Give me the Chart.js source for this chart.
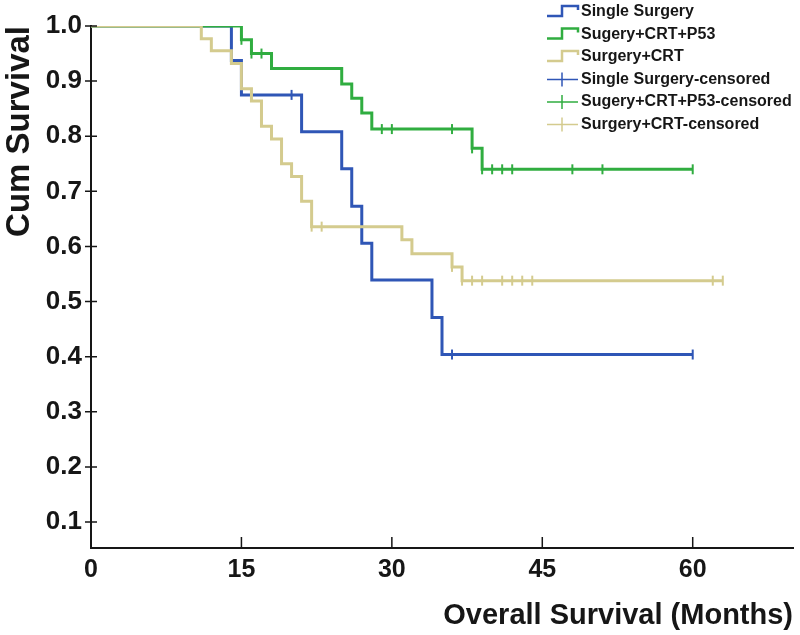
<!DOCTYPE html>
<html>
<head>
<meta charset="utf-8">
<script src="https://cdn.jsdelivr.net/npm/chart.js@4"></script>
<style>
  body { margin: 0; background: #fff; }
</style>
</head>
<body>
<canvas id="km" width="800" height="635"></canvas>
<script>
// Kaplan-Meier steps (months, cumulative survival)
const SINGLE_T = [0, 14, 15, 21, 25, 26, 27, 28, 34, 35, 60];
const SINGLE_S = [1, 0.9375, 0.875, 0.808, 0.741, 0.673, 0.606, 0.539, 0.471, 0.404, 0.404];
const SINGLE_CENS_T = [20, 36, 60];
const SINGLE_CENS_S = [0.875, 0.404, 0.404];

const P53_T = [0, 15, 16, 18, 25, 26, 27, 28, 38, 39, 60];
const P53_S = [1, 0.975, 0.950, 0.923, 0.895, 0.869, 0.842, 0.813, 0.778, 0.740, 0.740];
const P53_CENS_T = [15, 16, 17, 29, 30, 36, 38, 39, 40, 41, 42, 48, 51, 60];
const P53_CENS_S = [0.975, 0.950, 0.950, 0.813, 0.813, 0.813, 0.778, 0.740, 0.740, 0.740, 0.740, 0.740, 0.740, 0.740];

const CRT_T = [0, 11, 12, 14, 15, 16, 17, 18, 19, 20, 21, 22, 31, 32, 36, 37, 63];
const CRT_S = [1, 0.977, 0.955, 0.932, 0.886, 0.864, 0.818, 0.795, 0.750, 0.727, 0.682, 0.636, 0.612, 0.587, 0.563, 0.538, 0.538];
const CRT_CENS_T = [22, 23, 36, 37, 38, 39, 41, 42, 43, 44, 62, 63];
const CRT_CENS_S = [0.636, 0.636, 0.563, 0.538, 0.538, 0.538, 0.538, 0.538, 0.538, 0.538, 0.538, 0.538];

const X_TICKS = [0, 15, 30, 45, 60];
const Y_TICKS = [0.1, 0.2, 0.3, 0.4, 0.5, 0.6, 0.7, 0.8, 0.9, 1.0];

const SERIES_NAMES = ["Single Surgery", "Sugery+CRT+P53", "Surgery+CRT",
    "Single Surgery-censored", "Sugery+CRT+P53-censored", "Surgery+CRT-censored"];

const BLUE = "#2f56b6";
const GREEN = "#30ad40";
const TAN = "#d4cb8e";
const INK = "#161616";
const FONT = "'Liberation Sans', Arial, sans-serif";

function pts(t, s) {
    return t.map((v, i) => ({ x: v, y: s[i] }));
}

function curve(label, t, s, color, order) {
    return {
        type: 'line', label: label, data: pts(t, s),
        borderColor: color, borderWidth: 3, stepped: 'before',
        pointRadius: 0, fill: false, order: order
    };
}

function censored(label, t, s, color) {
    return {
        type: 'scatter', label: label, data: pts(t, s),
        borderColor: color, backgroundColor: color,
        pointStyle: 'line', rotation: 90, pointRadius: 5,
        pointBorderWidth: 2, pointHoverRadius: 5, order: 0
    };
}

// tick marks: crosses on the y axis, inward ticks on the x axis
const axisTicks = {
    id: 'axisTicks',
    afterDraw(chart) {
        const ctx = chart.ctx;
        const xs = chart.scales.x, ys = chart.scales.y;
        const area = chart.chartArea;
        ctx.save();
        ctx.strokeStyle = INK;
        ctx.lineWidth = 1.5;
        ctx.beginPath();
        Y_TICKS.forEach(v => {
            const y = ys.getPixelForValue(v);
            ctx.moveTo(area.left - 6, y);
            ctx.lineTo(area.left + 6, y);
        });
        X_TICKS.slice(1).forEach(v => {
            const x = xs.getPixelForValue(v);
            ctx.moveTo(x, area.bottom);
            ctx.lineTo(x, area.bottom - 11);
        });
        ctx.stroke();
        ctx.restore();
    }
};

// SPSS-style legend in the top right corner
const kmLegend = {
    id: 'kmLegend',
    afterDraw(chart) {
        const ctx = chart.ctx;
        const colors = [BLUE, GREEN, TAN, BLUE, GREEN, TAN];
        const x0 = 547, x1 = 578;
        ctx.save();
        ctx.font = "bold 16px " + FONT;
        ctx.textBaseline = 'middle';
        SERIES_NAMES.forEach((name, i) => {
            const y = 12 + i * 22.5;
            ctx.strokeStyle = colors[i];
            ctx.lineWidth = 2.5;
            ctx.beginPath();
            if (i < 3) {
                ctx.moveTo(x0, y + 4);
                ctx.lineTo(x0 + 15, y + 4);
                ctx.lineTo(x0 + 15, y - 6);
                ctx.lineTo(x1, y - 6);
                ctx.lineTo(x1, y - 2);
            } else {
                ctx.lineWidth = 1.5;
                ctx.moveTo(x0, y);
                ctx.lineTo(x1, y);
                ctx.moveTo(x0 + 15, y - 7);
                ctx.lineTo(x0 + 15, y + 7);
            }
            ctx.stroke();
            ctx.fillStyle = INK;
            ctx.fillText(name, x1 + 3, y);
        });
        ctx.restore();
    }
};

new Chart(document.getElementById('km'), {
    data: {
        datasets: [
            curve(SERIES_NAMES[0], SINGLE_T, SINGLE_S, BLUE, 3),
            curve(SERIES_NAMES[1], P53_T, P53_S, GREEN, 2),
            curve(SERIES_NAMES[2], CRT_T, CRT_S, TAN, 1),
            censored(SERIES_NAMES[3], SINGLE_CENS_T, SINGLE_CENS_S, BLUE),
            censored(SERIES_NAMES[4], P53_CENS_T, P53_CENS_S, GREEN),
            censored(SERIES_NAMES[5], CRT_CENS_T, CRT_CENS_S, TAN)
        ]
    },
    plugins: [axisTicks, kmLegend],
    options: {
        responsive: false,
        animation: false,
        layout: { padding: { top: 26, right: 5, left: 0, bottom: 0 } },
        plugins: {
            legend: { display: false },
            tooltip: { enabled: false }
        },
        scales: {
            x: {
                type: 'linear', min: 0, max: 70,
                afterBuildTicks: s => { s.ticks = X_TICKS.map(v => ({ value: v })); },
                afterFit: s => { s.height = 87; },
                grid: { display: false, drawTicks: false },
                border: { display: true, color: INK, width: 2 },
                ticks: { padding: 7, color: INK, font: { family: FONT, size: 25, weight: 'bold' } },
                title: {
                    display: true, text: 'Overall Survival (Months)', align: 'end',
                    color: INK, padding: { top: 0, bottom: 2 },
                    font: { family: FONT, size: 29, weight: 'bold' }
                }
            },
            y: {
                type: 'linear', min: 0.053, max: 1.0,
                afterBuildTicks: s => { s.ticks = Y_TICKS.map(v => ({ value: v })); },
                afterFit: s => { s.width = 91; },
                grid: { display: false, drawTicks: false },
                border: { display: true, color: INK, width: 2 },
                ticks: {
                    padding: 9, color: INK,
                    font: { family: FONT, size: 26, weight: 'bold' },
                    callback: v => v.toFixed(1)
                },
                title: {
                    display: true, text: 'Cum Survival', align: 'end',
                    color: INK, padding: { top: 0, bottom: 0 },
                    font: { family: FONT, size: 33, weight: 'bold' }
                }
            }
        }
    }
});
</script>
</body>
</html>
